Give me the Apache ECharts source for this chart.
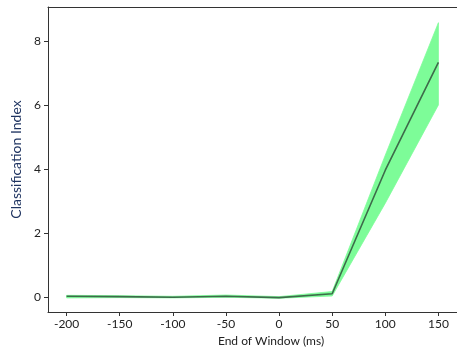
<!DOCTYPE html>
<html>
<head>
<meta charset="utf-8">
<script src="https://cdn.jsdelivr.net/npm/echarts@6/dist/echarts.min.js"></script>
<style>
  html, body { margin: 0; padding: 0; background: #fff; }
  #chart { width: 457px; height: 354px; }
</style>
</head>
<body>
<div id="chart"></div>
<script>
// Window end times (ms) and classification index summary per window
const windowEnds = [-200, -150, -100, -50, 0, 50, 100, 150];
const meanIndex  = [0.04, 0.03, 0.01, 0.04, 0.00, 0.12, 3.98, 7.35];
const lowerBound = [-0.01, 0.00, -0.01, 0.01, -0.02, 0.05, 2.95, 6.02];
const upperBound = [0.07, 0.06, 0.04, 0.08, 0.03, 0.19, 4.45, 8.59];
const xTicks = [-200, -150, -100, -50, 0, 50, 100, 150];
const yTicks = [0, 2, 4, 6, 8];

const font = 'Lato, "Open Sans", sans-serif';

const meanData = windowEnds.map((x, i) => [x, meanIndex[i]]);
const bandData = windowEnds.map((x, i) => [x, lowerBound[i], upperBound[i]]);

// Shaded band: one polygon through the upper bounds and back along the lower bounds
function renderBand(params, api) {
  if (params.dataIndex !== 0) return null;
  const upper = windowEnds.map((x, i) => api.coord([x, upperBound[i]]));
  const lower = windowEnds.map((x, i) => api.coord([x, lowerBound[i]])).reverse();
  return {
    type: 'polygon',
    shape: { points: upper.concat(lower) },
    style: { fill: '#7dfc98', stroke: '#7dfc98', lineWidth: 0.8 }
  };
}

const xRange = { min: -217.5, max: 167.5 };

const chart = echarts.init(document.getElementById('chart'), null, { renderer: 'canvas' });
chart.setOption({
  animation: false,
  grid: { left: 48, top: 7, right: -2, bottom: 42 },
  xAxis: [
    {
      type: 'value',
      min: xRange.min, max: xRange.max,
      name: 'End of Window (ms)',
      nameLocation: 'middle',
      nameGap: 22,
      nameTextStyle: { fontFamily: font, fontSize: 12, color: '#222', padding: [0, 0, 0, 37] },
      axisLine: { show: true, onZero: false, lineStyle: { color: '#333', width: 1 } },
      axisTick: { show: true, customValues: xTicks, length: 4, lineStyle: { color: '#333' } },
      axisLabel: { customValues: xTicks, fontFamily: font, fontSize: 12, color: '#222', margin: 6 },
      splitLine: { show: false }
    },
    {
      // top frame line only
      type: 'value', position: 'top',
      min: xRange.min, max: xRange.max,
      axisLine: { show: true, onZero: false, lineStyle: { color: '#333', width: 1 } },
      axisTick: { show: false },
      axisLabel: { show: false },
      splitLine: { show: false }
    }
  ],
  yAxis: {
    type: 'value',
    min: -0.45, max: 9.08,
    name: 'Classification Index',
    nameLocation: 'middle',
    nameGap: 25,
    nameTextStyle: { fontFamily: font, fontSize: 14, color: '#1f3461' },
    axisLine: { show: true, onZero: false, lineStyle: { color: '#333', width: 1 } },
    axisTick: { show: true, customValues: yTicks, length: 4, lineStyle: { color: '#333' } },
    axisLabel: { customValues: yTicks, fontFamily: font, fontSize: 12, color: '#222', margin: 7 },
    splitLine: { show: false }
  },
  series: [
    {
      type: 'custom',
      renderItem: renderBand,
      data: bandData,
      encode: { x: 0, y: [1, 2] },
      silent: true,
      z: 2
    },
    {
      type: 'line', data: meanData, symbol: 'none',
      lineStyle: { color: '#3d6b4a', width: 1.6 }, z: 5
    }
  ]
});
</script>
</body>
</html>
